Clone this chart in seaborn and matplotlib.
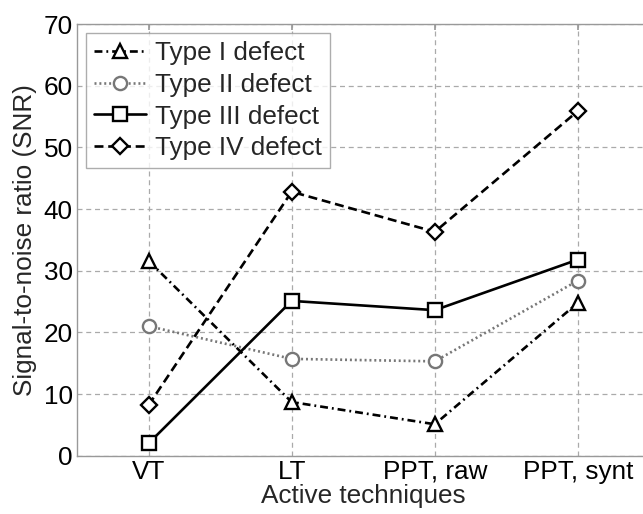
import matplotlib
matplotlib.use("Agg")
import matplotlib.pyplot as plt
import seaborn as sns
import pandas as pd

techniques = ["VT", "LT", "PPT, raw", "PPT, synt"]
defects = ["Type I defect", "Type II defect", "Type III defect", "Type IV defect"]
type_i = [31.6, 8.7, 5.1, 24.8]
type_ii = [21.0, 15.7, 15.3, 28.4]
type_iii = [2.0, 25.1, 23.6, 31.8]
type_iv = [8.2, 42.8, 36.3, 55.9]

series = [type_i, type_ii, type_iii, type_iv]
df = pd.DataFrame({
    "pos": [i for _ in defects for i in range(len(techniques))],
    "snr": [v for s in series for v in s],
    "defect": [d for d in defects for _ in techniques],
})

sns.set_theme(style="white")
plt.rcParams["font.family"] = ["Liberation Sans", "DejaVu Sans"]
FS = 18.8

fig = plt.figure(figsize=(6.43, 5.14), dpi=100)
ax = fig.add_axes([77 / 643, 58.3 / 514, 572.5 / 643, 431.7 / 514])

palette = {defects[0]: "black", defects[1]: "#777777",
           defects[2]: "black", defects[3]: "black"}
markers = {defects[0]: "^", defects[1]: "o", defects[2]: "s", defects[3]: "D"}
dashes = {defects[0]: (3.0, 1.5, 0.7, 1.5), defects[1]: (0.75, 1.1),
          defects[2]: "", defects[3]: (3.4, 1.8)}

sns.lineplot(data=df, x="pos", y="snr", hue="defect", style="defect",
             palette=palette, markers=markers, dashes=dashes,
             linewidth=1.9, markersize=9.5, markerfacecolor="white",
             markeredgecolor="auto", markeredgewidth=1.7, legend=False, ax=ax)
# diamonds a bit smaller than the other markers
for line in ax.get_lines():
    if line.get_marker() == "D":
        line.set_markersize(8)

ax.set_xlim(-0.5, 3.5)
ax.set_ylim(0, 70)
ax.set_xticks(range(len(techniques)))
ax.set_xticklabels(techniques)
ax.set_yticks(range(0, 71, 10))
ax.grid(True, linestyle=(0, (4, 3)), color="#aaaaaa", linewidth=0.9)
ax.set_axisbelow(True)

for sp in ax.spines.values():
    sp.set_color("#999999")
    sp.set_linewidth(1.0)
ax.tick_params(direction="in", length=4, color="#999999", top=True, right=True,
               labelsize=FS, pad=3, labelcolor="black")

ax.set_xlabel("Active techniques", fontsize=FS, labelpad=0)
ax.set_ylabel("Signal-to-noise ratio (SNR)", fontsize=FS, labelpad=5)

handles = ax.get_lines()[:4]
leg = ax.legend(handles, defects, loc="upper left",
                bbox_to_anchor=(0.0157, 0.979), borderaxespad=0,
                fontsize=FS, frameon=True, fancybox=False,
                handlelength=2.0, handletextpad=0.35, labelspacing=0.3,
                borderpad=0.3)
leg.get_frame().set_edgecolor("#999999")
leg.get_frame().set_linewidth(1.0)

fig.savefig("out.png", dpi=100)
